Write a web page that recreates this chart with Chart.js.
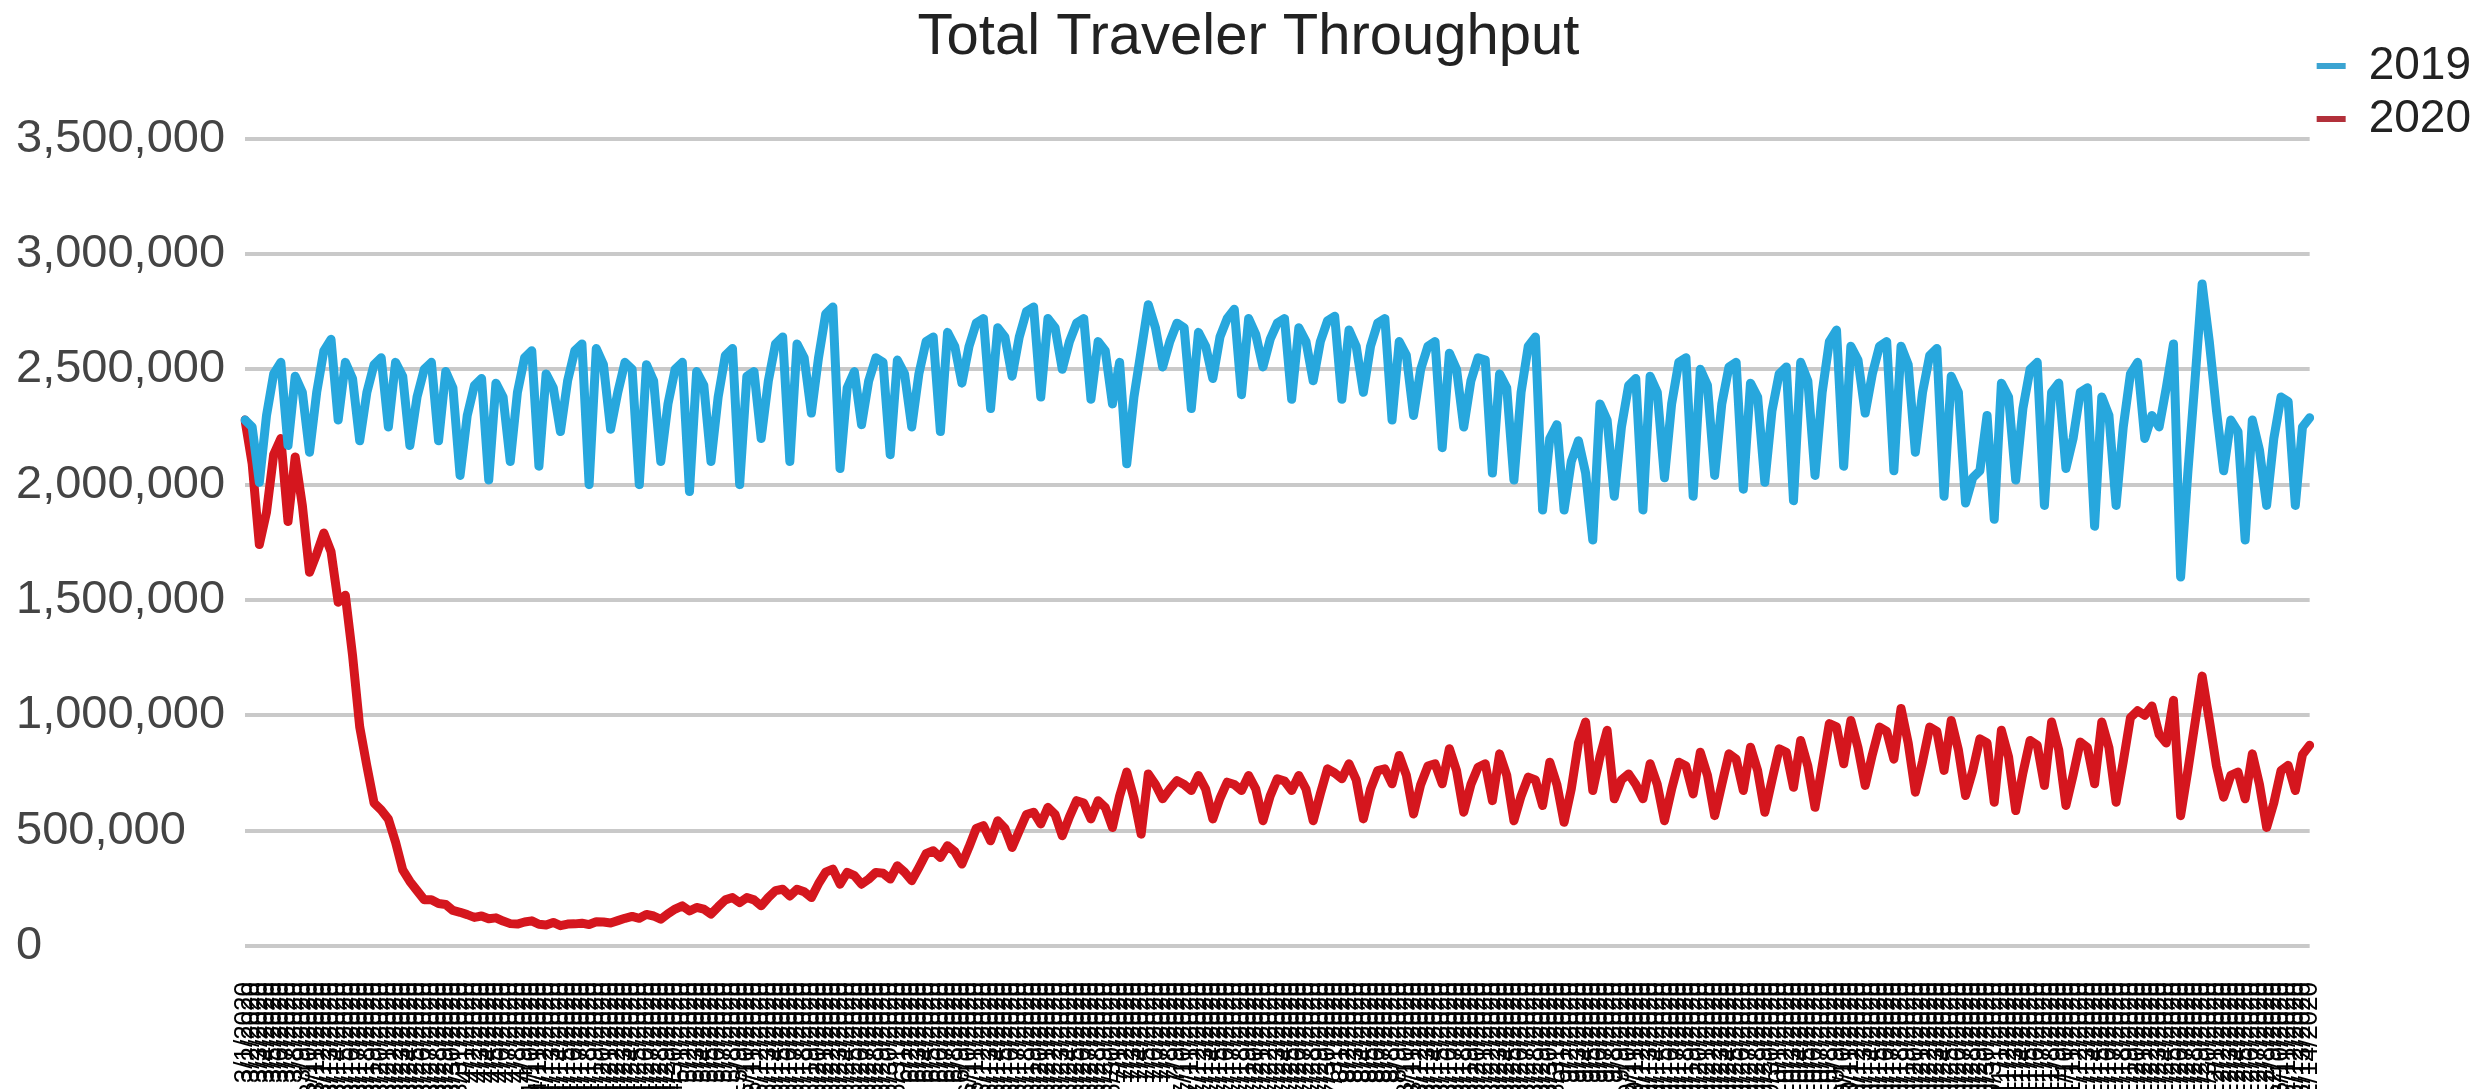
<!DOCTYPE html>
<html>
<head>
<meta charset="utf-8">
<title>Total Traveler Throughput</title>
<script src="https://cdn.jsdelivr.net/npm/chart.js@4.4.1/dist/chart.umd.min.js"></script>
<style>
  html, body { margin: 0; padding: 0; background: #ffffff; }
  #wrap { width: 2481px; height: 1089px; }
</style>
</head>
<body>
<div id="wrap"><canvas id="chart" width="2481" height="1089"></canvas></div>
<script>
// daily checkpoint counts from 3/1/2020, in thousands; 2019 is the same weekday a year earlier
const FIRST_DAY = { year: 2020, month: 3, day: 1 };

const throughput2019 = [
  2280, 2250, 2010, 2300, 2480, 2530, 2170,
  2470, 2400, 2140, 2400, 2580, 2630, 2280,
  2530, 2460, 2190, 2400, 2520, 2550, 2250,
  2530, 2470, 2170, 2380, 2500, 2530, 2190,
  2490, 2420, 2040, 2300, 2430, 2460, 2020,
  2440, 2380, 2100, 2400, 2550, 2580, 2080,
  2480, 2420, 2230, 2450, 2580, 2610, 2000,
  2590, 2520, 2240, 2400, 2530, 2500, 2000,
  2520, 2450, 2100, 2350, 2500, 2530, 1970,
  2490, 2430, 2100, 2380, 2560, 2590, 2000,
  2470, 2490, 2200, 2450, 2610, 2640, 2100,
  2610, 2550, 2310, 2550, 2740, 2770, 2070,
  2420, 2490, 2260, 2450, 2550, 2530, 2130,
  2540, 2480, 2250, 2480, 2620, 2640, 2230,
  2660, 2600, 2440, 2600, 2700, 2720, 2330,
  2680, 2640, 2470, 2640, 2750, 2770, 2380,
  2720, 2680, 2500, 2620, 2700, 2720, 2370,
  2620, 2580, 2350, 2530, 2090, 2380, 2580,
  2780, 2680, 2510, 2620, 2700, 2680, 2330,
  2660, 2600, 2460, 2640, 2720, 2760, 2390,
  2720, 2650, 2510, 2630, 2700, 2720, 2370,
  2680, 2620, 2450, 2620, 2710, 2730, 2370,
  2670, 2600, 2400, 2600, 2700, 2720, 2280,
  2620, 2560, 2300, 2500, 2600, 2620, 2160,
  2570, 2500, 2250, 2450, 2550, 2540, 2050,
  2480, 2420, 2020, 2400, 2600, 2640, 1890,
  2200, 2260, 1890, 2100, 2190, 2050, 1760,
  2350, 2280, 1950, 2250, 2430, 2460, 1890,
  2470, 2400, 2030, 2350, 2530, 2550, 1950,
  2500, 2430, 2040, 2350, 2510, 2530, 1980,
  2440, 2380, 2010, 2320, 2480, 2510, 1930,
  2530, 2450, 2040, 2400, 2620, 2670, 2080,
  2600, 2540, 2310, 2480, 2600, 2620, 2060,
  2600, 2520, 2140, 2400, 2560, 2590, 1950,
  2470, 2400, 1920, 2030, 2060, 2300, 1850,
  2440, 2380, 2020, 2330, 2500, 2530, 1910,
  2400, 2440, 2070, 2200, 2400, 2420, 1820,
  2380, 2300, 1910, 2250, 2480, 2530, 2200,
  2300, 2250, 2420, 2610, 1600, 2050, 2450,
  2870, 2620, 2320, 2060, 2280, 2230, 1760,
  2280, 2150, 1910, 2200, 2380, 2360, 1910,
  2250, 2290
];

const throughput2020 = [
  2280, 2090, 1740, 1880, 2130, 2200, 1840,
  2120, 1910, 1620, 1700, 1790, 1710, 1490,
  1520, 1260, 950, 780, 620, 590, 550,
  450, 330, 280, 240, 200, 200, 184,
  180, 154, 146, 136, 124, 130, 118,
  122, 108, 97, 95, 104, 109, 94,
  91, 102, 88, 95, 96, 99, 93,
  105, 104, 100, 110, 120, 128, 120,
  137, 130, 116, 140, 160, 174, 152,
  167, 160, 138, 170, 200, 210, 188,
  210, 200, 174, 210, 240, 246, 217,
  246, 235, 210, 270, 320, 333, 268,
  319, 305, 268, 290, 319, 315, 290,
  348, 320, 283, 340, 400, 413, 384,
  435, 410, 355, 430, 510, 522, 456,
  543, 510, 427, 500, 570, 580, 529,
  601, 570, 478, 560, 630, 620, 551,
  630, 600, 514, 650, 754, 640, 485,
  746, 700, 638, 680, 717, 700, 674,
  739, 680, 551, 640, 710, 700, 674,
  739, 680, 543, 650, 725, 715, 674,
  739, 680, 543, 660, 768, 750, 725,
  790, 720, 551, 680, 760, 768, 703,
  826, 740, 572, 700, 780, 790, 703,
  855, 760, 580, 700, 775, 790, 630,
  833, 740, 543, 650, 732, 720, 609,
  797, 700, 536, 680, 880, 971, 674,
  820, 935, 638, 720, 746, 700, 638,
  790, 700, 543, 680, 797, 780, 659,
  840, 740, 565, 700, 833, 810, 674,
  862, 760, 580, 720, 855, 840, 688,
  891, 780, 601, 780, 964, 950, 790,
  978, 860, 696, 830, 949, 930, 810,
  1030, 880, 667, 800, 949, 930, 761,
  978, 850, 652, 760, 898, 880, 623,
  935, 820, 587, 750, 891, 870, 696,
  971, 850, 609, 740, 884, 860, 703,
  971, 860, 623, 800, 990, 1020, 1000,
  1040, 917, 880, 1065, 565, 760, 965,
  1170, 980, 780, 645, 740, 754, 638,
  833, 700, 514, 620, 760, 783, 674,
  830, 870
];

const seriesNames = ['2019', '2020'];
const lineColors = ['#27A7DD', '#D5161E'];
const legendColors = ['#3BA4D2', '#B2303A'];
const Y_MAX = 3500000;
const Y_STEP = 500000;

const FONT = "'Liberation Sans', Arial, sans-serif";

// one label per day, m/d/yyyy
const dayLabels = throughput2020.map((_, i) => {
    const d = new Date(FIRST_DAY.year, FIRST_DAY.month - 1, FIRST_DAY.day + i);
    return (d.getMonth() + 1) + '/' + d.getDate() + '/' + d.getFullYear();
});

const datasets = [throughput2019, throughput2020].map((vals, i) => ({
    label: seriesNames[i],
    data: vals.map(v => v * 1000),
    borderColor: lineColors[i],
    backgroundColor: legendColors[i],
    borderWidth: 9,
    pointRadius: 0,
    tension: 0,
    borderJoinStyle: 'round',
    borderCapStyle: 'round',
    fill: false
}));

new Chart(document.getElementById('chart'), {
    type: 'line',
    data: { labels: dayLabels, datasets },
    options: {
        responsive: false,
        animation: false,
        devicePixelRatio: 1,
        layout: { padding: { top: 36, left: 16, right: 0, bottom: 0 } },
        plugins: {
            title: {
                display: true,
                text: 'Total Traveler Throughput',
                color: '#222222',
                font: { family: FONT, size: 58, weight: 'normal' },
                padding: { top: -33, bottom: 66 }
            },
            legend: {
                position: 'right',
                align: 'start',
                labels: {
                    color: '#222222',
                    font: { family: FONT, size: 46 },
                    boxWidth: 29,
                    boxHeight: 6,
                    padding: 7,
                    generateLabels: (chart) => Chart.defaults.plugins.legend.labels.generateLabels(chart)
                        .map(item => ({ ...item, lineWidth: 0, fillStyle: legendColors[item.datasetIndex] }))
                }
            },
            tooltip: { enabled: false }
        },
        scales: {
            x: {
                grid: { display: false, drawTicks: false },
                border: { display: false },
                ticks: {
                    autoSkip: false,
                    maxRotation: 90,
                    minRotation: 90,
                    padding: 36,
                    color: '#000000',
                    font: { family: FONT, size: 26 }
                },
                afterFit: (scale) => { scale.height = 143; }
            },
            y: {
                min: 0,
                max: Y_MAX,
                grid: { color: '#C9C9C9', lineWidth: 4, drawTicks: false },
                border: { display: false },
                ticks: {
                    stepSize: Y_STEP,
                    crossAlign: 'far',
                    padding: 0,
                    color: '#444444',
                    font: { family: FONT, size: 47 },
                    callback: (v) => v.toLocaleString('en-US')
                },
                afterFit: (scale) => { scale.width = 229; }
            }
        }
    }
});
</script>
</body>
</html>
